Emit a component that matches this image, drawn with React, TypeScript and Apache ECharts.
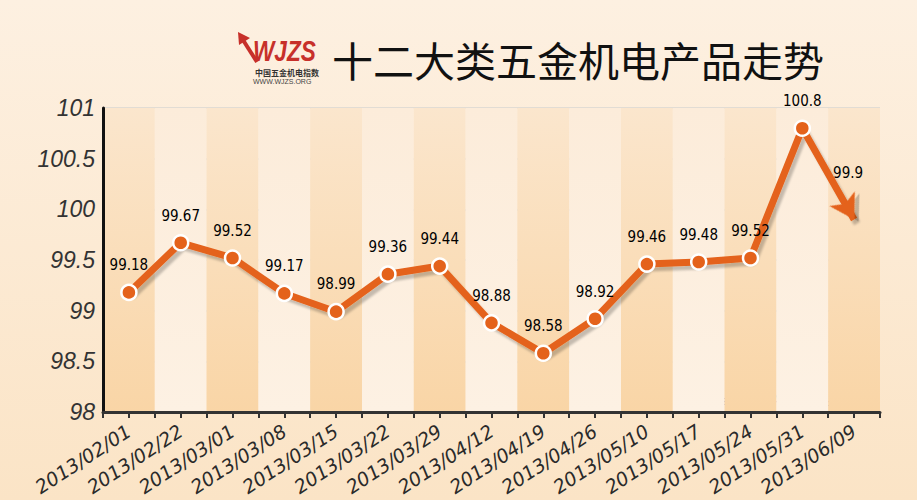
import React, { useEffect, useRef } from "react";
import * as echarts from "echarts";

const categories = [
  "2013/02/01", "2013/02/22", "2013/03/01", "2013/03/08", "2013/03/15",
  "2013/03/22", "2013/03/29", "2013/04/12", "2013/04/19", "2013/04/26",
  "2013/05/10", "2013/05/17", "2013/05/24", "2013/05/31", "2013/06/09",
];
const values = [99.18, 99.67, 99.52, 99.17, 98.99, 99.36, 99.44, 98.88, 98.58, 98.92, 99.46, 99.48, 99.52, 100.8, 99.9];
const titleText = "十二大类五金机电产品走势";
const watermark = "www.wjzs.org 中国·五金机电指数网";

export default function App() {
  const ref = useRef<HTMLDivElement>(null);
  useEffect(() => {
    if (!ref.current) return;
    const chart = echarts.init(ref.current, null, { renderer: "svg" });
    const G = echarts.graphic.LinearGradient;
    const n = values.length;
    const data = values.map((v, i) =>
      i === n - 1
        ? { value: v, symbol: "arrow", symbolSize: [22, 24], symbolRotate: -150, symbolOffset: [0, 0], itemStyle: { color: "#e4621b", borderWidth: 0, shadowColor: "rgba(0,0,0,0.22)", shadowBlur: 2, shadowOffsetX: 3, shadowOffsetY: 4 } }
        : v
    );
    const halfCats = Array.from({ length: n * 2 }, (_, i) => String(i));
    chart.setOption({
      animation: false,
      backgroundColor: new G(0, 0, 0, 1, [
        { offset: 0, color: "#fdf0e1" },
        { offset: 1, color: "#fbe4c6" },
      ]),
      grid: { left: 103, right: 37, top: 108, bottom: 88 },
      xAxis: [
        {
          type: "category",
          data: categories,
          boundaryGap: true,
          position: "bottom",
          axisLine: { show: false },
          axisTick: { show: false },
          axisLabel: {
            rotate: 33,
            interval: 0,
            margin: 17,
            fontSize: 19,
            fontStyle: "italic",
            fontFamily: "DejaVu Sans, Verdana, sans-serif",
            color: "#2a2a2a",
          },
          splitArea: {
            show: true,
            interval: 0,
            areaStyle: {
              color: [
                new G(0, 0, 0, 1, [
                  { offset: 0, color: "#fbe6cd" },
                  { offset: 1, color: "#f9d5a6" },
                ]),
                new G(0, 0, 0, 1, [
                  { offset: 0, color: "#fcecda" },
                  { offset: 1, color: "#fdf1e3" },
                ]),
              ],
            },
          },
        },
        {
          type: "category",
          data: halfCats,
          boundaryGap: true,
          position: "bottom",
          axisLine: { show: true, lineStyle: { color: "#333", width: 3 } },
          axisTick: { show: true, interval: 0, length: 6, lineStyle: { color: "#333", width: 2 } },
          axisLabel: { show: false },
          splitLine: { show: false },
          splitArea: { show: false },
        },
      ],
      yAxis: {
        type: "value",
        min: 98,
        max: 101,
        interval: 0.5,
        axisLine: { show: true, lineStyle: { color: "#111", width: 3 } },
        axisTick: { show: false },
        axisLabel: {
          fontSize: 23,
          fontStyle: "italic",
          fontFamily: "Liberation Sans, Arial, sans-serif",
          color: "#333",
          margin: 8,
        },
        splitLine: { show: true, lineStyle: { color: "#d9d6d2", width: 1.5 } },
      },
      series: [
        {
          type: "line",
          xAxisIndex: 0,
          data,
          symbol: "circle",
          symbolSize: 15,
          lineStyle: {
            color: "#e4621b",
            width: 7,
            shadowColor: "rgba(0,0,0,0.22)",
            shadowBlur: 2,
            shadowOffsetX: 3,
            shadowOffsetY: 4,
          },
          itemStyle: { color: "#e4621b", borderColor: "#fff", borderWidth: 2.5 },
          label: {
            show: true,
            position: "top",
            distance: 11,
            fontSize: 15,
            fontFamily: "DejaVu Sans Condensed, Tahoma, sans-serif",
            color: "#000",
          },
          z: 5,
        },
      ],
      graphic: [
        {
          type: "text",
          left: 332,
          top: 38,
          style: {
            text: titleText,
            fontSize: 41,
            fontFamily: "Noto Sans CJK SC, sans-serif",
            fill: "#111",
          },
        },
        {
          type: "polyline",
          shape: { points: [[257, 62], [243, 40]] },
          style: { stroke: "#c7302a", lineWidth: 4, fill: null },
        },
        {
          type: "polygon",
          shape: { points: [[238, 32], [250, 38], [239, 45]] },
          style: { fill: "#c7302a" },
        },
        {
          type: "text",
          x: 253,
          y: 36,
          scaleX: 0.78,
          style: {
            text: "WJZS",
            fontSize: 29,
            fontWeight: "bold",
            fontStyle: "italic",
            fontFamily: "Liberation Sans, Arial, sans-serif",
            fill: "#c7302a",
            textVerticalAlign: "top",
          },
        },
        {
          type: "text",
          left: 255,
          top: 68,
          style: {
            text: "中国五金机电指数",
            fontSize: 8,
            fontWeight: "bold",
            fontFamily: "Noto Sans CJK SC, sans-serif",
            fill: "#333",
          },
        },
        {
          type: "text",
          left: 253,
          top: 78,
          style: {
            text: "WWW.WJZS.ORG",
            fontSize: 7,
            fontFamily: "Liberation Sans, Arial, sans-serif",
            fill: "#444",
          },
        },
        {
          type: "text",
          left: 675,
          top: 395,
          style: {
            text: watermark,
            fontSize: 12,
            fontStyle: "italic",
            fontFamily: "Liberation Sans, Noto Sans CJK SC, sans-serif",
            fill: "#8a7f9c",
          },
        },
      ],
    });
    return () => chart.dispose();
  }, []);
  return (
    <div
      ref={ref}
      style={{ position: "fixed", left: 0, top: 0, width: 917, height: 500 }}
    />
  );
}
